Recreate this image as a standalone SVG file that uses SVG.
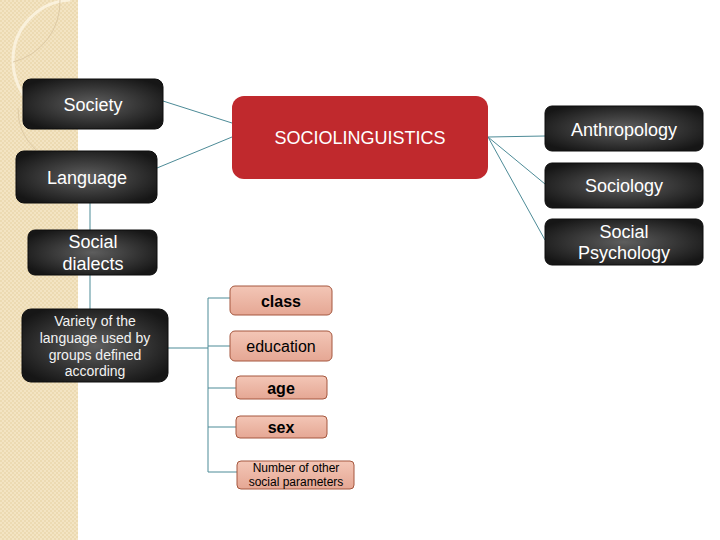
<svg xmlns="http://www.w3.org/2000/svg" width="720" height="540" viewBox="0 0 720 540">
<defs>
<pattern id="chk" width="4" height="4" patternUnits="userSpaceOnUse">
<rect width="4" height="4" fill="#f3e4c3"/>
<rect width="2" height="2" fill="#ecdab2"/>
<rect x="2" y="2" width="2" height="2" fill="#ecdab2"/>
</pattern>
<radialGradient id="dark" cx="50%" cy="50%" r="60%">
<stop offset="0" stop-color="#5e5e5e"/>
<stop offset="1" stop-color="#161616"/>
</radialGradient>
<linearGradient id="salmon" x1="0" y1="0" x2="0" y2="1">
<stop offset="0" stop-color="#f3c6b6"/>
<stop offset="1" stop-color="#e5a794"/>
</linearGradient>
<style>
.dk{fill:url(#dark);stroke:#0c0c0c;stroke-width:1}
.sa{fill:url(#salmon);stroke:#a5573e;stroke-width:1}
.wt{font-family:"Liberation Sans",Arial,sans-serif;fill:#ffffff;text-anchor:middle;font-size:18px}
.sm{font-size:14px;fill:#f2f2f2}
.bt{font-family:"Liberation Sans",Arial,sans-serif;fill:#000000;text-anchor:middle;font-size:16px}
.cn{stroke:#4d8b97;stroke-width:1;fill:none}
</style>
</defs>
<rect width="720" height="540" fill="#ffffff"/>
<g id="background">
<rect x="0" y="0" width="78" height="540" fill="url(#chk)"/>
<path d="M70,0 A60,60 0 0 0 13,60 A62,62 0 0 0 78,122" fill="none" stroke="#faf1dc" stroke-width="3"/>
<path d="M60,0 A62,62 0 0 1 13,62" fill="none" stroke="#d8c4a0" stroke-width="0.8"/>
<path d="M18,108 A55,55 0 0 0 36,150" fill="none" stroke="#d8c4a0" stroke-width="0.8"/>
</g>
<g id="connectors">
<line class="cn" x1="163" y1="101" x2="232" y2="123"/>
<line class="cn" x1="157" y1="168" x2="232" y2="137"/>
<line class="cn" x1="90" y1="203" x2="90" y2="230"/>
<line class="cn" x1="90" y1="275" x2="90" y2="309"/>
<line class="cn" x1="488" y1="137" x2="545" y2="136"/>
<line class="cn" x1="488" y1="137" x2="545" y2="184"/>
<line class="cn" x1="488" y1="137" x2="545" y2="240"/>
<line class="cn" x1="168" y1="348" x2="208" y2="348"/>
<line class="cn" x1="208" y1="298" x2="208" y2="472"/>
<line class="cn" x1="208" y1="298" x2="230" y2="298"/>
<line class="cn" x1="208" y1="346" x2="230" y2="346"/>
<line class="cn" x1="208" y1="388" x2="236" y2="388"/>
<line class="cn" x1="208" y1="427" x2="236" y2="427"/>
<line class="cn" x1="208" y1="472" x2="237" y2="472"/>
</g>
<g id="society">
<rect class="dk" x="23" y="79" width="140" height="50" rx="8"/>
<text class="wt" x="93" y="111">Society</text>
</g>
<g id="language">
<rect class="dk" x="16" y="151" width="141" height="52" rx="8"/>
<text class="wt" x="87" y="184">Language</text>
</g>
<g id="social-dialects">
<rect class="dk" x="28" y="230" width="129" height="45" rx="7"/>
<text class="wt" x="93" y="248">Social</text>
<text class="wt" x="93" y="270">dialects</text>
</g>
<g id="sociolinguistics">
<rect x="232" y="96" width="256" height="83" rx="12" fill="#c0292d"/>
<text class="wt" x="360" y="144">SOCIOLINGUISTICS</text>
</g>
<g id="anthropology">
<rect class="dk" x="545" y="106" width="158" height="45" rx="7"/>
<text class="wt" x="624" y="136">Anthropology</text>
</g>
<g id="sociology">
<rect class="dk" x="545" y="163" width="158" height="45" rx="7"/>
<text class="wt" x="624" y="192">Sociology</text>
</g>
<g id="social-psychology">
<rect class="dk" x="545" y="219" width="158" height="46" rx="7"/>
<text class="wt" x="624" y="238">Social</text>
<text class="wt" x="624" y="259">Psychology</text>
</g>
<g id="variety">
<rect class="dk" x="22" y="309" width="146" height="73" rx="9"/>
<text class="wt sm" x="95" y="326">Variety of the</text>
<text class="wt sm" x="95" y="343">language used by</text>
<text class="wt sm" x="95" y="360">groups defined</text>
<text class="wt sm" x="95" y="376">according</text>
</g>
<g id="class">
<rect class="sa" x="230" y="286" width="102" height="29" rx="5"/>
<text class="bt" x="281" y="307" font-weight="bold">class</text>
</g>
<g id="education">
<rect class="sa" x="230" y="331" width="102" height="30" rx="5"/>
<text class="bt" x="281" y="352">education</text>
</g>
<g id="age">
<rect class="sa" x="236" y="376" width="91" height="23" rx="4"/>
<text class="bt" x="281" y="394" font-weight="bold">age</text>
</g>
<g id="sex">
<rect class="sa" x="236" y="416" width="91" height="22" rx="4"/>
<text class="bt" x="281" y="433" font-weight="bold">sex</text>
</g>
<g id="other-parameters">
<rect class="sa" x="237" y="461" width="117" height="28" rx="4"/>
<text class="bt" x="296" y="472" style="font-size:12px">Number of other</text>
<text class="bt" x="296" y="486" style="font-size:12px">social parameters</text>
</g>
</svg>
